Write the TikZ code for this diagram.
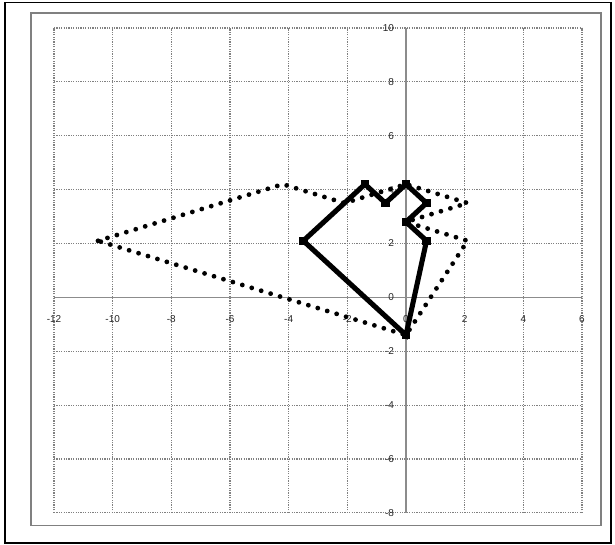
\documentclass[tikz,border=0pt]{standalone}
\usepackage{fontspec}
\setmainfont{Liberation Sans}
\begin{document}
\begin{tikzpicture}[x=22pt,y=20.205pt,
  gridline/.style={draw=black!50, line width=0.9pt, dash pattern=on 0.9pt off 0.9pt},
  axisline/.style={draw=black!45, line width=1.1pt},
  ticklab/.style={font=\fontsize{7.5}{8}\selectfont, text=black!85, inner sep=0pt},
  dotline/.style={draw=black, line width=3.6pt, line cap=round, dash pattern=on 0pt off 7.4pt},
  solidline/.style={draw=black, line width=3.8pt, line join=miter},
  marker/.style={fill=black, minimum size=6.4pt, inner sep=0pt, outer sep=0pt, rectangle}]
% canvas
\useasboundingbox (-13.842,11.039) rectangle (7.126,-9.191);
\fill[white] (-13.842,11.039) rectangle (7.126,-9.191);
\draw[black, line width=1.3pt] (-13.68,10.95) rectangle (6.99,-9.12);
\draw[black!50, line width=0.8pt] (-12.785,10.557) rectangle (6.648,-8.486);
% grid
\foreach \gx in {-12,-10,...,6} {\draw[gridline] (\gx,-8) -- (\gx,10);}
\foreach \gy in {-8,-6,...,10} {\draw[gridline] (-12,\gy) -- (6,\gy);}
% axes
\draw[axisline] (-12,0) -- (6,0);
\draw[axisline] (0,-8) -- (0,10);
% tick labels
\foreach \gx in {-12,-10,...,6} {\node[ticklab] (xl\gx) at (\gx,-0.8) {\gx};}
\foreach \gy in {-8,-6,...,10} {\node[ticklab, anchor=east] (yl\gy) at (-0.4,\gy) {\gy};}
% dotted figure (stretched)
\coordinate (d1) at (-10.5,2.1);
\coordinate (d2) at (-4.2,4.2);
\coordinate (d3) at (-2.1,3.5);
\coordinate (d4) at (0,4.2);
\coordinate (d5) at (2.1,3.5);
\coordinate (d6) at (0,2.8);
\coordinate (d7) at (2.1,2.1);
\coordinate (d8) at (0,-1.4);
\draw[dotline] (d1) -- (d2) -- (d3) -- (d4) -- (d5) -- (d6) -- (d7) -- (d8) -- (d1);
% solid figure
\coordinate (s1) at (-3.5,2.1);
\coordinate (s2) at (-1.4,4.2);
\coordinate (s3) at (-0.7,3.5);
\coordinate (s4) at (0,4.2);
\coordinate (s5) at (0.7,3.5);
\coordinate (s6) at (0,2.8);
\coordinate (s7) at (0.7,2.1);
\coordinate (s8) at (0,-1.4);
\draw[solidline] (s1) -- (s2) -- (s3) -- (s4) -- (s5) -- (s6) -- (s7) -- (s8) -- cycle;
\foreach \p in {s1,s2,s3,s4,s5,s6,s7,s8} {\node[marker] (m\p) at (\p) {};}
\end{tikzpicture}
\end{document}
